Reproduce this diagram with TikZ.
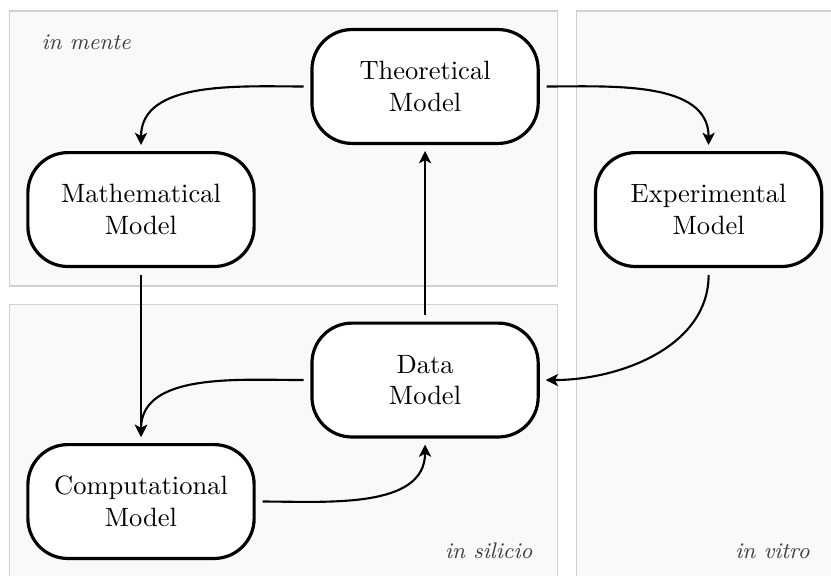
\documentclass[tikz,border=0pt]{standalone}
\usepackage{tikz}
\usetikzlibrary{arrows.meta}
\begin{document}
\begin{tikzpicture}[model/.style={draw, very thick, fill=white, rounded corners=0.53cm, minimum width=3.0cm, minimum height=1.51cm, align=center},
    region/.style={draw=black!18, fill=black!2.5},
    link/.style={-{Stealth[length=4.6pt,width=4.6pt,inset=1.2pt]}, thick, shorten >=0.08cm, shorten <=0.09cm},
    tag/.style={font=\fontsize{8.5}{10}\selectfont\itshape, text=black!75, inner sep=0pt}]
            \useasboundingbox (0,0) rectangle (11.02,7.626);
            % backgrounds
            \draw[region] (0.126,3.833) rectangle (7.387,7.480);
            \draw[region] (0.126,-0.2) rectangle (7.387,3.594);
            \draw[region] (7.639,-0.2) rectangle (11.3,7.480);
            \node[tag, anchor=west] (mente) at (0.544,7.069) {in mente};
            \node[tag, anchor=east] (silicio) at (7.069,0.318) {in silicio};
            \node[tag, anchor=east] (vitro) at (10.743,0.318) {in vitro};
            % models
            \node[model] (theo) at (5.637,6.479) {Theoretical\\Model};
            \node[model] (math) at (1.870,4.847) {Mathematical\\Model};
            \node[model] (expe) at (9.397,4.847) {Experimental\\Model};
            \node[model] (data) at (5.637,2.586) {Data\\Model};
            \node[model] (comp) at (1.870,0.975) {Computational\\Model};
            % arrows
            \draw[link] (theo.west) to[out=180, in=90] (math.north);
            \draw[link] (theo.east) to[out=0, in=90] (expe.north);
            \draw[link] (math.south) -- (comp.north);
            \draw[link] (data.west) to[out=180, in=90] (comp.north);
            \draw[link] (comp.east) to[out=0, in=-90] (data.south);
            \draw[link] (expe.south) to[out=-90, in=0] (data.east);
            \draw[link] (data.north) -- (theo.south);
        \end{tikzpicture}
\end{document}
